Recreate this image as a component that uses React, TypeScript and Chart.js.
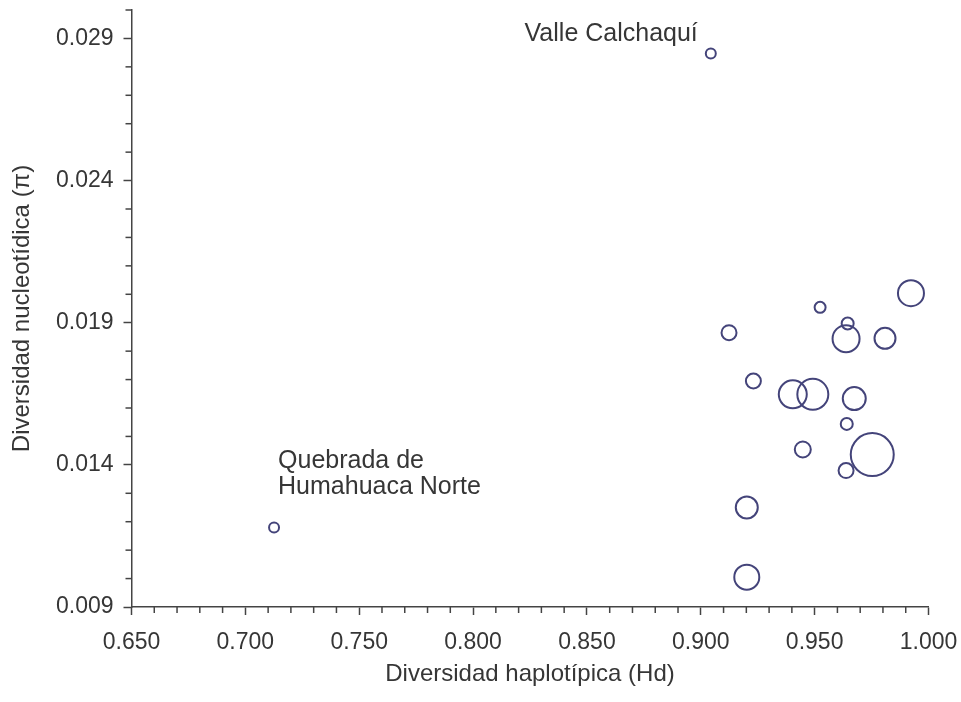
import React, { useEffect, useRef } from 'react';
import { Chart, registerables } from 'chart.js';

Chart.register(...registerables);

// Haplotype diversity (Hd), x axis
const hd = [0.9044, 0.7126, 0.9923, 0.9524, 0.9645, 0.9638, 0.9809, 0.9124, 0.9231, 0.9404, 0.9492, 0.9674, 0.9641, 0.9448, 0.9753, 0.9638, 0.9202, 0.9202];
// Nucleotide diversity (pi), y axis
const pi = [0.02847, 0.0118, 0.02004, 0.01954, 0.01897, 0.01844, 0.01845, 0.01865, 0.01695, 0.01648, 0.01648, 0.01633, 0.01544, 0.01454, 0.01436, 0.0138, 0.0125, 0.01005];
// Bubble sizes
const sizes = [5, 5, 13, 5.5, 6, 13.5, 10.5, 7.5, 7.5, 14, 15.5, 11.5, 6, 8, 21.5, 7.5, 11, 12.5];

// Labelled populations (index into the series) and their label text lines
const labelledIndex = [0, 1];
const labelLines = [['Valle Calchaquí'], ['Quebrada de', 'Humahuaca Norte']];

const xMajorTicks = [0.65, 0.7, 0.75, 0.8, 0.85, 0.9, 0.95, 1.0];
const yMajorTicks = [0.009, 0.014, 0.019, 0.024, 0.029];
const xMinorStep = 0.01;
const yMinorStep = 0.001;

const FONT = '"Liberation Sans", Arial, sans-serif';
const TEXT = '#363636';
const AXIS = '#444444';

const minorTicksPlugin = {
  id: 'minorTicks',
  afterDraw(chart: any) {
    const ctx = chart.ctx;
    const xs = chart.scales.x;
    const ys = chart.scales.y;
    ctx.save();
    ctx.strokeStyle = AXIS;
    ctx.lineWidth = 1.5;
    const len = 6;
    const nX = Math.round((xs.max - xs.min) / xMinorStep);
    for (let i = 0; i <= nX; i++) {
      const v = xs.min + i * xMinorStep;
      if (xMajorTicks.some((m) => Math.abs(m - v) < 1e-9)) continue;
      const px = xs.getPixelForValue(v);
      ctx.beginPath();
      ctx.moveTo(px, xs.top);
      ctx.lineTo(px, xs.top + len);
      ctx.stroke();
    }
    const nY = Math.round((ys.max - ys.min) / yMinorStep);
    for (let i = 0; i <= nY; i++) {
      const v = ys.min + i * yMinorStep;
      if (yMajorTicks.some((m) => Math.abs(m - v) < 1e-9)) continue;
      const py = ys.getPixelForValue(v);
      ctx.beginPath();
      ctx.moveTo(ys.right, py);
      ctx.lineTo(ys.right - len, py);
      ctx.stroke();
    }
    ctx.restore();
  },
};

const pointLabelPlugin = {
  id: 'pointLabels',
  afterDatasetsDraw(chart: any) {
    const ctx = chart.ctx;
    const xs = chart.scales.x;
    const ys = chart.scales.y;
    ctx.save();
    ctx.fillStyle = TEXT;
    ctx.font = `25px ${FONT}`;
    ctx.textBaseline = 'alphabetic';
    labelledIndex.forEach((idx, k) => {
      const px = xs.getPixelForValue(hd[idx]);
      const py = ys.getPixelForValue(pi[idx]);
      const lines = labelLines[k];
      if (k === 0) {
        ctx.textAlign = 'right';
        ctx.fillText(lines[0], px - 13, py - 12);
      } else {
        ctx.textAlign = 'left';
        const lh = 26;
        lines.forEach((ln, j) => {
          ctx.fillText(ln, px + 4, py - 33 - (lines.length - 1 - j) * lh);
        });
      }
    });
    ctx.restore();
  },
};

export default function App() {
  const canvasRef = useRef<HTMLCanvasElement | null>(null);

  useEffect(() => {
    if (!canvasRef.current) return;
    const data = hd.map((x, i) => ({ x, y: pi[i], r: sizes[i] }));
    const chart = new Chart(canvasRef.current, {
      type: 'bubble',
      data: {
        datasets: [
          {
            data,
            backgroundColor: 'rgba(0,0,0,0)',
            borderColor: '#44447a',
            borderWidth: 2,
            clip: false as any,
          },
        ],
      },
      options: {
        responsive: false,
        animation: false,
        devicePixelRatio: 1,
        layout: { autoPadding: false, padding: { left: 0, right: 32.5, top: 10, bottom: 0 } },
        plugins: {
          legend: { display: false },
          tooltip: { enabled: false },
        },
        scales: {
          x: {
            type: 'linear',
            min: 0.65,
            max: 1.0,
            afterBuildTicks: (s: any) => {
              s.ticks = xMajorTicks.map((v) => ({ value: v }));
            },
            afterFit: (s: any) => {
              s.height = 95;
              s.paddingLeft = 0;
              s.paddingRight = 0;
            },
            grid: {
              display: true,
              drawOnChartArea: false,
              drawTicks: true,
              tickLength: 8,
              tickColor: AXIS,
              tickWidth: 1.5,
            },
            border: { display: true, color: AXIS, width: 1.5 },
            ticks: {
              color: TEXT,
              font: { family: FONT, size: 23 },
              padding: 14,
              maxRotation: 0,
              autoSkip: false,
              callback: (v: any) => Number(v).toFixed(3),
            },
            title: {
              display: true,
              text: 'Diversidad haplotípica (Hd)',
              color: TEXT,
              font: { family: FONT, size: 24 },
              padding: { top: 0, bottom: 13 },
            },
          },
          y: {
            type: 'linear',
            min: 0.009,
            max: 0.03,
            afterBuildTicks: (s: any) => {
              s.ticks = yMajorTicks.map((v) => ({ value: v }));
            },
            afterFit: (s: any) => {
              s.width = 131.5;
              s.paddingTop = 0;
              s.paddingBottom = 0;
            },
            grid: {
              display: true,
              drawOnChartArea: false,
              drawTicks: true,
              tickLength: 8,
              tickColor: AXIS,
              tickWidth: 1.5,
            },
            border: { display: true, color: AXIS, width: 1.5 },
            ticks: {
              color: TEXT,
              font: { family: FONT, size: 23 },
              padding: 10,
              autoSkip: false,
              callback: (v: any) => Number(v).toFixed(3),
            },
            title: {
              display: true,
              text: 'Diversidad nucleotídica (π)',
              color: TEXT,
              font: { family: FONT, size: 24 },
              padding: { top: 8, bottom: 0 },
            },
          },
        },
      },
      plugins: [minorTicksPlugin, pointLabelPlugin],
    });
    return () => chart.destroy();
  }, []);

  return (
    <div style={{ position: 'absolute', left: 0, top: 0, width: 961, height: 702, background: '#fff' }}>
      <canvas ref={canvasRef} width={961} height={702} style={{ display: 'block' }} />
    </div>
  );
}
